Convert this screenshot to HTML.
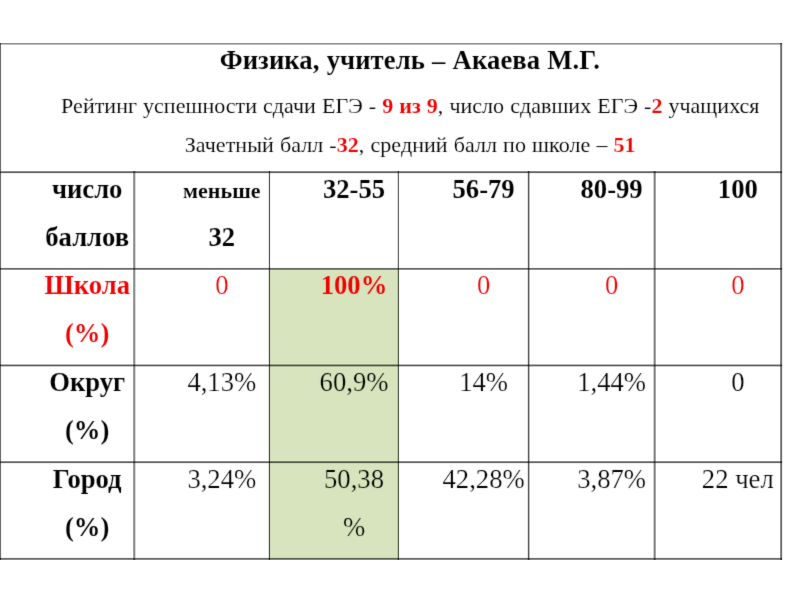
<!DOCTYPE html>
<html lang="ru">
<head>
<meta charset="utf-8">
<title>Физика</title>
<style>
html,body{margin:0;padding:0;background:#fff;}
body{width:800px;height:600px;position:relative;overflow:hidden;font-family:"Liberation Serif",serif;color:#000;}
.t{position:absolute;width:700px;text-align:center;white-space:nowrap;line-height:40px;height:40px;font-size:26.67px;}
.t{-webkit-text-stroke:0.22px #fff;}
.b{font-weight:bold;-webkit-text-stroke-width:0.1px;}
.gc{-webkit-text-stroke-color:#d7e4bd;}
.r{color:#f00000;}
.s{font-size:22px;-webkit-text-stroke-width:0.1px;}
.s.b{-webkit-text-stroke-width:0.12px;}
.l2{word-spacing:0.5px;letter-spacing:0.03px;}
.l3{word-spacing:0.5px;letter-spacing:0.06px;}
.ti{word-spacing:0.4px;letter-spacing:0.08px;}
.r b{color:#f00000;}
b.r{color:#f00000;}
.green{position:absolute;left:269px;top:269px;width:130px;height:290px;background:#d7e4bd;}
svg{position:absolute;left:0;top:0;}
#g i{position:absolute;display:block;background:#000;}
#g .h{left:0;width:782px;height:1px;}
#g .v{width:1px;}
#w{position:absolute;left:0;top:0;width:800px;height:600px;filter:url(#soft);}
</style>
</head>
<body>
<svg width="0" height="0" style="position:absolute"><defs><filter id="soft" x="0" y="0" width="100%" height="100%" color-interpolation-filters="sRGB"><feConvolveMatrix order="3" kernelMatrix="0.015 0.070 0.015 0.070 0.660 0.070 0.015 0.070 0.015" edgeMode="duplicate" preserveAlpha="false"/></filter></defs></svg>
<div id="w">
<div class="green"></div>
<div class="t b ti" style="left:59.9px;top:40.00px">Физика, учитель – Акаева М.Г.</div>
<div class="t s l2" style="left:60.3px;top:85.88px">Рейтинг успешности сдачи ЕГЭ - <b class="r">9 из 9</b>, число сдавших ЕГЭ -<b class="r">2</b> учащихся</div>
<div class="t s l3" style="left:60.2px;top:125.47px">Зачетный балл -<b class="r">32</b>, средний балл по школе – <b class="r">51</b></div>
<div class="t b" style="left:-262.8px;top:169.00px">число</div>
<div class="t b" style="left:-262.8px;top:217.00px">баллов</div>
<div class="t b s" style="left:-128.2px;top:170.57px">меньше</div>
<div class="t b" style="left:-128.2px;top:217.00px">32</div>
<div class="t b" style="left:4.0px;top:169.00px">32-55</div>
<div class="t b" style="left:133.6px;top:169.00px">56-79</div>
<div class="t b" style="left:261.6px;top:169.00px">80-99</div>
<div class="t b" style="left:387.8px;top:169.00px">100</div>
<div class="t b r" style="left:-262.8px;top:265.10px">Школа</div>
<div class="t b r" style="left:-262.8px;top:313.10px">(%)</div>
<div class="t r" style="left:-128.2px;top:265.10px">0</div>
<div class="t b r gc" style="left:4.0px;top:265.10px">100%</div>
<div class="t r" style="left:133.6px;top:265.10px">0</div>
<div class="t r" style="left:261.6px;top:265.10px">0</div>
<div class="t r" style="left:387.8px;top:265.10px">0</div>
<div class="t b" style="left:-262.8px;top:362.40px">Округ</div>
<div class="t b" style="left:-262.8px;top:410.40px">(%)</div>
<div class="t" style="left:-128.2px;top:362.40px">4,13%</div>
<div class="t gc" style="left:4.0px;top:362.40px">60,9%</div>
<div class="t" style="left:133.6px;top:362.40px">14%</div>
<div class="t" style="left:261.6px;top:362.40px">1,44%</div>
<div class="t" style="left:387.8px;top:362.40px">0</div>
<div class="t b" style="left:-262.8px;top:459.20px">Город</div>
<div class="t b" style="left:-262.8px;top:507.20px">(%)</div>
<div class="t" style="left:-128.2px;top:459.20px">3,24%</div>
<div class="t gc" style="left:4.0px;top:459.20px">50,38</div>
<div class="t" style="left:133.6px;top:459.20px">42,28%</div>
<div class="t" style="left:261.6px;top:459.20px">3,87%</div>
<div class="t" style="left:387.8px;top:459.20px">22 чел</div>
<div class="t gc" style="left:4.0px;top:507.20px">%</div>
</div>
<div id="g">
<i class="h" style="top:43px;opacity:0.435"></i>
<i class="h" style="top:44px;opacity:0.247"></i>
<i class="h" style="top:171px;opacity:0.451"></i>
<i class="h" style="top:172px;opacity:0.592"></i>
<i class="h" style="top:173px;opacity:0.090"></i>
<i class="h" style="top:267px;opacity:0.043"></i>
<i class="h" style="top:268px;opacity:0.561"></i>
<i class="h" style="top:269px;opacity:0.435"></i>
<i class="h" style="top:364px;opacity:0.278"></i>
<i class="h" style="top:365px;opacity:0.624"></i>
<i class="h" style="top:366px;opacity:0.216"></i>
<i class="h" style="top:461px;opacity:0.451"></i>
<i class="h" style="top:462px;opacity:0.592"></i>
<i class="h" style="top:463px;opacity:0.078"></i>
<i class="h" style="top:557px;opacity:0.059"></i>
<i class="h" style="top:558px;opacity:0.561"></i>
<i class="h" style="top:559px;opacity:0.467"></i>
<i class="v" style="left:0px;top:43px;height:517px;opacity:0.561"></i>
<i class="v" style="left:1px;top:43px;height:517px;opacity:0.059"></i>
<i class="v" style="left:133px;top:171px;height:389px;opacity:0.373"></i>
<i class="v" style="left:134px;top:171px;height:389px;opacity:0.451"></i>
<i class="v" style="left:135px;top:171px;height:389px;opacity:0.153"></i>
<i class="v" style="left:268px;top:171px;height:389px;opacity:0.122"></i>
<i class="v" style="left:269px;top:171px;height:389px;opacity:0.631"></i>
<i class="v" style="left:270px;top:171px;height:389px;opacity:0.059"></i>
<i class="v" style="left:397px;top:171px;height:389px;opacity:0.153"></i>
<i class="v" style="left:398px;top:171px;height:389px;opacity:0.576"></i>
<i class="v" style="left:399px;top:171px;height:389px;opacity:0.027"></i>
<i class="v" style="left:527px;top:171px;height:389px;opacity:0.122"></i>
<i class="v" style="left:528px;top:171px;height:389px;opacity:0.624"></i>
<i class="v" style="left:529px;top:171px;height:389px;opacity:0.278"></i>
<i class="v" style="left:653px;top:171px;height:389px;opacity:0.184"></i>
<i class="v" style="left:654px;top:171px;height:389px;opacity:0.498"></i>
<i class="v" style="left:655px;top:171px;height:389px;opacity:0.341"></i>
<i class="v" style="left:780px;top:43px;height:517px;opacity:0.451"></i>
<i class="v" style="left:781px;top:43px;height:517px;opacity:0.553"></i>
<i class="v" style="left:782px;top:43px;height:517px;opacity:0.090"></i>
</div>
</body>
</html>
